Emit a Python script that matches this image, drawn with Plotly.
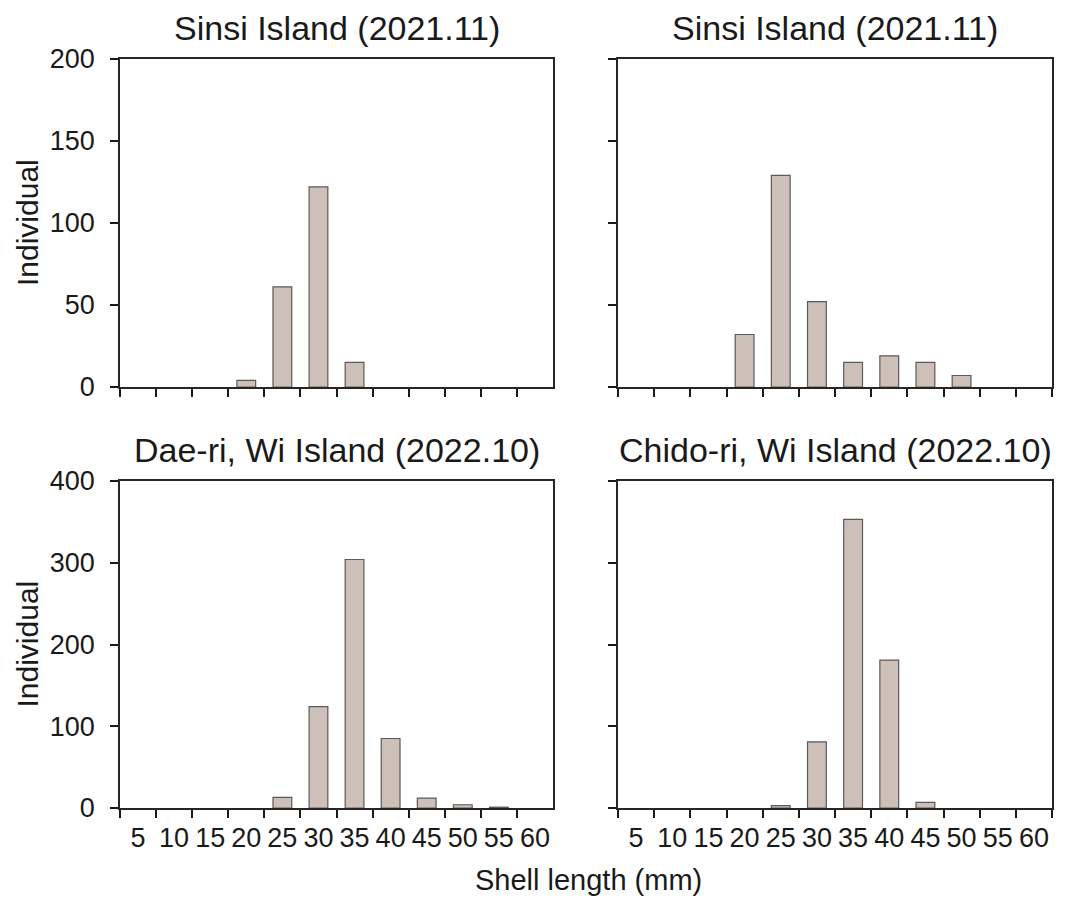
import plotly.graph_objects as go

# Shell length classes (mm)
size_classes = ["5", "10", "15", "20", "25", "30", "35", "40", "45", "50", "55", "60"]

# Individuals per class at each site
sinsi_a = [0, 0, 0, 4, 61, 122, 15, 0, 0, 0, 0, 0]
sinsi_b = [0, 0, 0, 32, 129, 52, 15, 19, 15, 7, 0, 0]
daeri = [0, 0, 0, 0, 13, 124, 304, 85, 12, 4, 1, 0]
chidori = [0, 0, 0, 0, 3, 81, 353, 181, 7, 0, 0, 0]

titles = [
    "Sinsi Island (2021.11)",
    "Sinsi Island (2021.11)",
    "Dae-ri, Wi Island (2022.10)",
    "Chido-ri, Wi Island (2022.10)",
]
series = [sinsi_a, sinsi_b, daeri, chidori]

W, H = 1072, 900
FONT = "Liberation Sans, Arial, sans-serif"
INK = "#1a1a1a"
FRAME = "#2b2522"
BAR_FILL = "#cdc0b9"
BAR_EDGE = "#5a5a5a"

# panel boxes in pixels: (left, right, top, bottom)
boxes = [
    (120, 553, 59, 387),
    (618, 1052, 59, 387),
    (120, 553, 481, 808),
    (618, 1052, 481, 808),
]

fig = go.Figure()
for i, (vals, box) in enumerate(zip(series, boxes)):
    n = i + 1
    xa = "x" if n == 1 else f"x{n}"
    ya = "y" if n == 1 else f"y{n}"
    # empty classes get no outline
    edge_w = [1.2 if v > 0 else 0 for v in vals]
    fig.add_trace(go.Bar(
        x=size_classes, y=vals, xaxis=xa, yaxis=ya,
        marker=dict(color=BAR_FILL, line=dict(color=BAR_EDGE, width=edge_w)),
        width=0.52, showlegend=False,
    ))
    l, r, t, b = box
    top_row = n <= 2
    left_col = n in (1, 3)
    xkey = "xaxis" if n == 1 else f"xaxis{n}"
    ykey = "yaxis" if n == 1 else f"yaxis{n}"
    fig.layout[xkey] = dict(
        domain=[l / W, r / W], anchor=ya, type="category",
        range=[-0.5, 11.5], tickson="boundaries", tickangle=0,
        automargin=False,
        ticks="outside", ticklen=8, tickwidth=1.5, tickcolor=INK,
        showline=True, linecolor=FRAME, linewidth=1.8, mirror=True,
        showgrid=False, zeroline=False,
        showticklabels=not top_row, ticklabelstandoff=5,
        tickfont=dict(family=FONT, size=27, color=INK),
    )
    ymax = 200 if top_row else 400
    ydt = 50 if top_row else 100
    fig.layout[ykey] = dict(
        domain=[1 - b / H, 1 - t / H], anchor=xa,
        range=[0, ymax], dtick=ydt, tick0=0, automargin=False,
        ticks="outside", ticklen=8, tickwidth=1.5, tickcolor=INK,
        showline=True, linecolor=FRAME, linewidth=1.8, mirror=True,
        showgrid=False, zeroline=False,
        showticklabels=left_col, ticklabelstandoff=10,
        tickfont=dict(family=FONT, size=27, color=INK),
    )
    fig.add_annotation(
        text=titles[i], xref="paper", yref="paper",
        x=(l + r) / 2 / W, y=1 - (t - 31) / H,
        showarrow=False, font=dict(family=FONT, size=34, color=INK),
        xanchor="center", yanchor="middle",
    )

# y-axis titles for the left column
for t, b in [(59, 387), (481, 808)]:
    fig.add_annotation(
        text="Individual", xref="paper", yref="paper",
        x=27 / W, y=1 - (t + b) / 2 / H, textangle=-90,
        showarrow=False, font=dict(family=FONT, size=30, color=INK),
        xanchor="center", yanchor="middle",
    )

# shared x-axis title
fig.add_annotation(
    text="Shell length (mm)", xref="paper", yref="paper",
    x=588 / W, y=1 - 880 / H, showarrow=False,
    font=dict(family=FONT, size=29, color=INK),
    xanchor="center", yanchor="middle",
)

fig.update_layout(
    width=W, height=H,
    margin=dict(l=0, r=0, t=0, b=0),
    paper_bgcolor="white", plot_bgcolor="white",
)

fig.write_html("out.html")
